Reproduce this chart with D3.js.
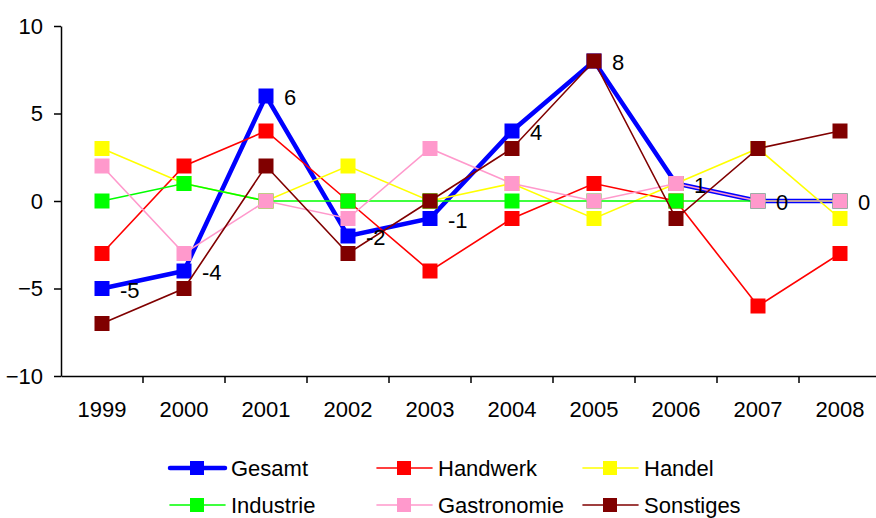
<!DOCTYPE html>
<html>
<head>
<meta charset="utf-8">
<script src="https://cdn.jsdelivr.net/npm/d3@7"></script>
<style>
  body { margin: 0; background: #fff; }
  text { font-family: Arial, "Liberation Sans", sans-serif; }
</style>
</head>
<body>
<script>
// chart data
let years = ["1999", "2000", "2001", "2002", "2003", "2004", "2005", "2006", "2007", "2008"];
let gesamt = [-5, -4, 6, -2, -1, 4, 8, 1, 0, 0];
let handwerk = [-3, 2, 4, 0, -4, -1, 1, 0, -6, -3];
let handel = [3, 1, 0, 2, 0, 1, -1, 1, 3, -1];
let industrie = [0, 1, 0, 0, 0, 0, 0, 0, 0, 0];
let gastronomie = [2, -3, 0, -1, 3, 1, 0, 1, 0, 0];
let sonstiges = [-7, -5, 2, -3, 0, 3, 8, -1, 3, 4];
let yTicks = [-10, -5, 0, 5, 10];

let series = [
  { name: "Gesamt", values: gesamt, color: "#0000ff", width: 4.5 },
  { name: "Handwerk", values: handwerk, color: "#ff0000", width: 1.6 },
  { name: "Handel", values: handel, color: "#ffff00", width: 1.6 },
  { name: "Industrie", values: industrie, color: "#00ff00", width: 1.6 },
  { name: "Gastronomie", values: gastronomie, color: "#ff99cc", width: 1.6 },
  { name: "Sonstiges", values: sonstiges, color: "#800000", width: 1.6 }
];

let width = 876;
let height = 518;
let margins = { top: 26, right: -5, bottom: 142, left: 61 };
let chart_width = width - margins.left - margins.right;
let chart_height = height - margins.top - margins.bottom;
let fontSize = "22px";

let svg = d3.select("body")
  .append("svg")
  .attr("width", width)
  .attr("height", height);

let chart_group = svg.append("g")
  .attr("transform", `translate(${margins.left}, ${margins.top})`);

let x = d3.scaleBand()
  .domain(years)
  .range([0, chart_width]);

let y = d3.scaleLinear()
  .domain([-10, 10])
  .range([chart_height, 0]);

// axes
let x_axis = chart_group.append("g")
  .attr("transform", `translate(0, ${chart_height})`)
  .call(d3.axisBottom(x).tickSize(0).tickPadding(25));
x_axis.select(".domain").attr("stroke", "#000").attr("stroke-width", 1.5);
x_axis.selectAll("text").style("font-size", fontSize).attr("fill", "#000");

// ticks sit on category boundaries
chart_group.append("g")
  .selectAll("line")
  .data(years.slice(1))
  .enter()
  .append("line")
  .attr("x1", d => x(d))
  .attr("x2", d => x(d))
  .attr("y1", chart_height)
  .attr("y2", chart_height + 7)
  .attr("stroke", "#000")
  .attr("stroke-width", 1.5);

let y_axis = chart_group.append("g")
  .call(d3.axisLeft(y).tickValues(yTicks).tickSize(7).tickPadding(11).tickSizeOuter(0));
y_axis.select(".domain").attr("stroke", "#000").attr("stroke-width", 1.5);
y_axis.selectAll("line").attr("stroke-width", 1.5);
y_axis.selectAll("text").style("font-size", fontSize).attr("fill", "#000");

let cx = i => x(years[i]) + x.bandwidth() / 2;
let line = d3.line()
  .x((d, i) => cx(i))
  .y(d => y(d));

let msize = 15;

series.forEach(function(s) {
  let g = chart_group.append("g");
  g.append("path")
    .datum(s.values)
    .attr("fill", "none")
    .attr("stroke", s.color)
    .attr("stroke-width", s.width)
    .attr("d", line);
  g.selectAll("rect")
    .data(s.values)
    .enter()
    .append("rect")
    .attr("x", (d, i) => cx(i) - msize / 2)
    .attr("y", d => y(d) - msize / 2)
    .attr("width", msize)
    .attr("height", msize)
    .attr("fill", s.color);
});

// value labels for Gesamt
chart_group.append("g")
  .selectAll("text")
  .data(gesamt)
  .enter()
  .append("text")
  .attr("x", (d, i) => cx(i) + 18)
  .attr("y", d => y(d) + 9)
  .style("font-size", fontSize)
  .text(d => d);

// legend
let legendPos = [
  { x: 170, y: 468 }, { x: 377, y: 468 }, { x: 583, y: 468 },
  { x: 170, y: 505 }, { x: 377, y: 505 }, { x: 583, y: 505 }
];
series.forEach(function(s, i) {
  let p = legendPos[i];
  let lg = svg.append("g").attr("transform", `translate(${p.x}, ${p.y})`);
  lg.append("line")
    .attr("x1", 0).attr("x2", 55)
    .attr("y1", 0).attr("y2", 0)
    .attr("stroke", s.color)
    .attr("stroke-width", s.width)
    .attr("stroke-linecap", "round");
  lg.append("rect")
    .attr("x", 27 - 7)
    .attr("y", -7)
    .attr("width", 14)
    .attr("height", 14)
    .attr("fill", s.color);
  lg.append("text")
    .attr("x", 61)
    .attr("y", 8)
    .style("font-size", fontSize)
    .text(s.name);
});
</script>
</body>
</html>
